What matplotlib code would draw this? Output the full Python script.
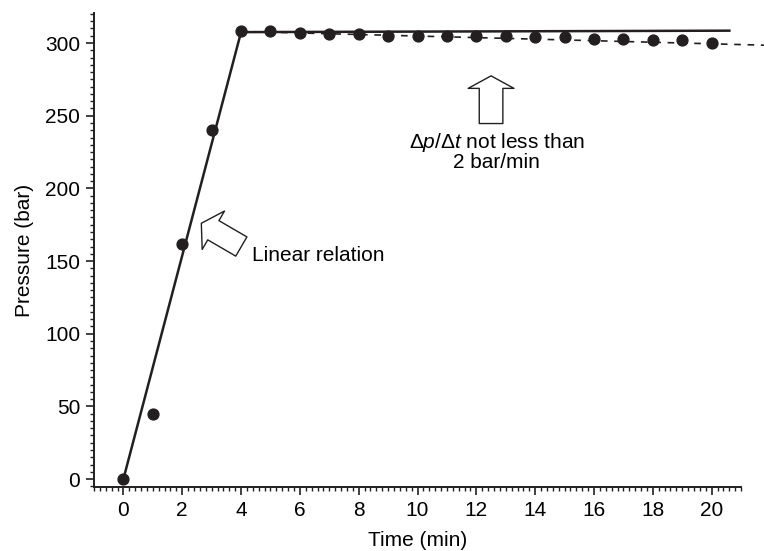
import matplotlib
matplotlib.use('Agg')
import matplotlib.pyplot as plt
from matplotlib.ticker import MultipleLocator

plt.rcParams['font.family'] = ['Liberation Sans', 'DejaVu Sans']
plt.rcParams['mathtext.fontset'] = 'custom'
plt.rcParams['mathtext.rm'] = 'Liberation Sans'
plt.rcParams['mathtext.it'] = 'Liberation Sans:italic'

# measured points
time_min = [0, 1, 2, 3, 4, 5, 6, 7, 8, 9, 10, 11, 12, 13, 14, 15, 16, 17, 18, 19, 20]
pressure_bar = [0, 45, 162, 240, 308, 308, 307, 306, 306, 305, 305, 304.5, 304.5,
                304.5, 304, 304, 303, 303, 302, 302, 300]

# fitted lines
fit_t = [0, 4, 20.6]
fit_p = [0, 307.5, 308.5]
trend_t = [4, 21.8]
trend_p = [308, 298.5]

ink = '#231f20'
fs = 15

fig = plt.figure(figsize=(7.64, 5.51), dpi=100)
ax = fig.add_axes([0.123, 0.116, 0.847, 0.860])

ax.plot(fit_t, fit_p, color=ink, lw=1.8, zorder=3)
ax.plot(trend_t, trend_p, color=ink, lw=1.2, ls=(0, (4, 4)), clip_on=False, zorder=2)
ax.plot(time_min, pressure_bar, 'o', color=ink, ms=7.8, zorder=4, clip_on=False)

ax.set_xlim(-1, 21)
ax.set_ylim(-5.5, 320.5)

ax.xaxis.set_major_locator(MultipleLocator(2))
ax.xaxis.set_minor_locator(MultipleLocator(0.2))
ax.yaxis.set_major_locator(MultipleLocator(50))
ax.yaxis.set_minor_locator(MultipleLocator(5))

for side in ['top', 'right']:
    ax.spines[side].set_visible(False)
for side in ['left', 'bottom']:
    ax.spines[side].set_linewidth(1.4)
    ax.spines[side].set_color(ink)

ax.tick_params(which='major', direction='out', length=6, width=1.2, color=ink,
               labelsize=fs, labelcolor='black', pad=4)
ax.tick_params(which='minor', direction='out', length=3, width=1.0, color=ink)

ax.set_xlabel('Time (min)', fontsize=fs, labelpad=8)
ax.set_ylabel('Pressure (bar)', fontsize=fs, labelpad=8)

# hollow block arrows
ax.annotate('', xy=(2.65, 176), xytext=(4.01, 160),
            arrowprops=dict(arrowstyle='simple,head_length=10,head_width=32,tail_width=16',
                            mutation_scale=1, fc='white', ec=ink, lw=1.0,
                            shrinkA=0, shrinkB=0))
ax.text(4.38, 154, 'Linear relation', fontsize=fs, ha='left', va='center')

ax.annotate('', xy=(12.5, 277.4), xytext=(12.5, 244.6),
            arrowprops=dict(arrowstyle='simple,head_length=9,head_width=33,tail_width=17',
                            mutation_scale=1, fc='white', ec=ink, lw=1.0,
                            shrinkA=0, shrinkB=0))
ax.text(12.69, 225.5, r'$\Delta p/\Delta t$ not less than' + '\n2 bar/min',
        fontsize=fs, ha='center', va='center', multialignment='center', linespacing=0.95)

fig.savefig('out.png', dpi=100)
